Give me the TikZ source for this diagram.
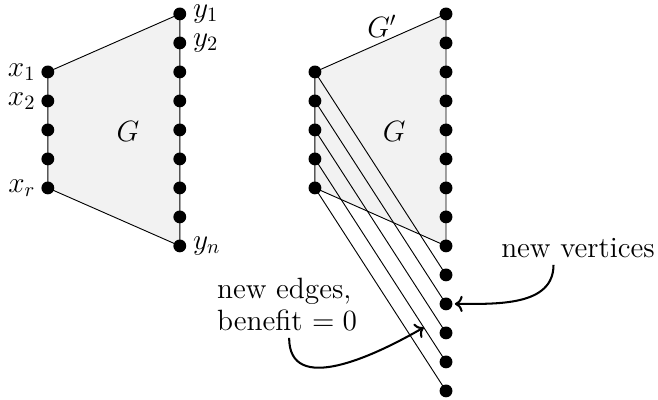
\documentclass[tikz,border=0pt]{standalone}
\usepackage{amsmath,amssymb}
\usetikzlibrary{positioning, arrows.meta, backgrounds}

\begin{document}
\begin{tikzpicture}[
      x=0.5cm, y=0.5cm,
      every node/.style={font=\fontsize{14.4}{15.5}\selectfont},
      vertex/.style={circle, fill=black, inner sep=0pt, minimum size=6.3pt},
      lbl/.style={inner sep=1pt},
      edge/.style={line width=0.45pt},
      arrow/.style={->, line width=1pt},
    ]
    \useasboundingbox (0,0) rectangle (22.69,-13.79);
    % Left: the graph G
    \foreach \i in {1,...,5} \node[vertex] (l\i) at (1.65,-1.48-\i) {};
    \foreach \j in {1,...,9} \node[vertex] (r\j) at (6.2,0.52-\j) {};
    % Right: the graph G'
    \foreach \i in {1,...,5} \node[vertex] (a\i) at (10.86,-1.48-\i) {};
    \foreach \j in {1,...,14} \node[vertex] (b\j) at (15.38,0.52-\j) {};
    % Shaded regions and edges
    \begin{scope}[on background layer]
      \fill[gray!10] (l1.center) -- (r1.center) -- (r9.center) -- (l5.center) -- cycle;
      \fill[gray!10] (a1.center) -- (b1.center) -- (b9.center) -- (a5.center) -- cycle;
      \draw[edge] (l5.center) -- (l1.center) -- (r1.center) -- (r9.center) -- (l5.center);
      \draw[edge] (a5.center) -- (a1.center) -- (b1.center) -- (b9.center) -- (a5.center);
      \foreach \i [evaluate=\i as \k using int(\i+9)] in {1,...,5}
        \draw[edge] (a\i.center) -- (b\k.center);
    \end{scope}
    % Labels
    \node[lbl, left=1.5pt of l1] {$x_1$};
    \node[lbl, left=1.5pt of l2] {$x_2$};
    \node[lbl, left=1.5pt of l5] {$x_r$};
    \node[lbl, right=2pt of r1] {$y_1$};
    \node[lbl, right=2pt of r2] {$y_2$};
    \node[lbl, right=2pt of r9] {$y_n$};
    \node (gl) at (4.41,-4.55) {$G$};
    \node (gr) at (13.59,-4.55) {$G$};
    \node (gp) at (13.17,-0.9) {$G'$};
    \node (nv) at (19.93,-8.55) {new vertices};
    \node[align=left] (ne) at (9.9,-10.5) {new edges,\\benefit $= 0$};
    % Arrows
    \path (a4) -- (b13) coordinate[pos=0.85] (hit);
    \draw[arrow] ([xshift=-12pt]nv.south) to[out=-90, in=0] ([xshift=1pt]b11.east);
    \draw[arrow] ([xshift=1pt]ne.south) to[out=-90, in=210, looseness=1.1] (hit);
  \end{tikzpicture}
\end{document}
